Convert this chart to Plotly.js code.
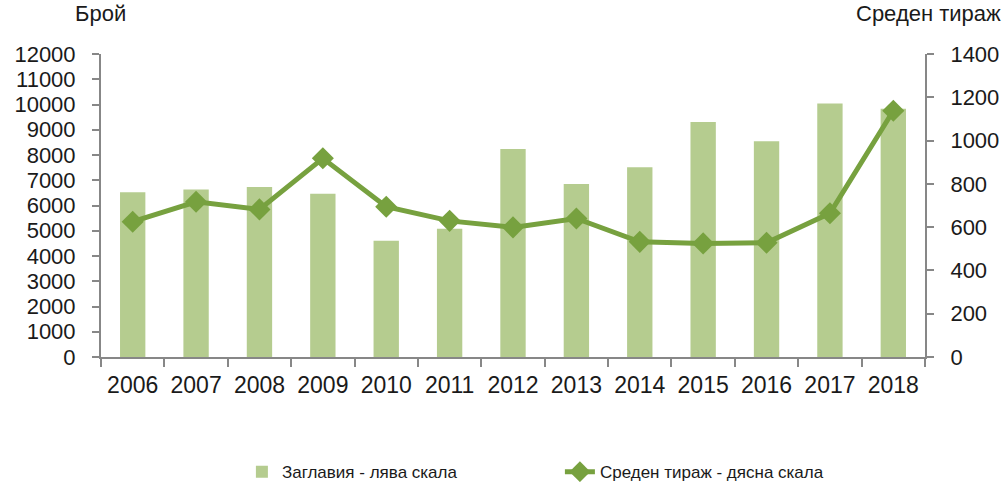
<!DOCTYPE html>
<html>
<head>
<meta charset="utf-8">
<script src="https://cdn.plot.ly/plotly-3.0.1.min.js"></script>
<style>html,body{margin:0;padding:0;background:#fff;}#chart{width:1006px;height:482px;}</style>
</head>
<body>
<div id="chart"></div>
<script>
const years = ['2006','2007','2008','2009','2010','2011','2012','2013','2014','2015','2016','2017','2018'];
const titlesCount = [6520, 6630, 6730, 6470, 4600, 5080, 8240, 6850, 7510, 9310, 8540, 10040, 9830];
const avgCirculation = [625, 717, 682, 918, 694, 629, 599, 640, 532, 525, 528, 664, 1138];
const leftTicks = [0,1000,2000,3000,4000,5000,6000,7000,8000,9000,10000,11000,12000];
const rightTicks = [0,200,400,600,800,1000,1200,1400];
const barName = 'Заглавия - лява скала';
const lineName = 'Среден тираж - дясна скала';
const leftTitle = 'Брой';
const rightTitle = 'Среден тираж';

const axisColor = '#878787';
const font = 'Liberation Sans, Arial, sans-serif';
const txt = '#1a1a1a';

const traces = [
  {type:'bar', x:years, y:titlesCount, name:barName, marker:{color:'#b5cc8f'}, yaxis:'y', xaxis:'x'},
  {type:'scatter', mode:'lines+markers', x:years, y:avgCirculation, name:lineName, yaxis:'y2', xaxis:'x',
   line:{color:'#77a13f', width:5}, marker:{symbol:'diamond', size:17, color:'#77a13f'}}
];

const layout = {
  width:1006, height:482,
  margin:{l:101, r:81, t:54, b:125, autoexpand:false},
  paper_bgcolor:'#fff', plot_bgcolor:'#fff',
  bargap:0.6,
  showlegend:true,
  legend:{orientation:'h', x:0.171, xanchor:'left', y:-0.38, yanchor:'middle',
          font:{family:font, size:17, color:txt}, entrywidth:273, entrywidthmode:'pixels', tracegroupgap:0},
  font:{family:font, color:txt},
  xaxis:{type:'category', range:[-0.5, years.length - 0.5], automargin:false, tickangle:0, showgrid:false, zeroline:false, showline:true, linecolor:axisColor, linewidth:2,
         ticks:'outside', ticklen:8, tickcolor:axisColor, tickwidth:2, tickson:'boundaries',
         tickfont:{family:font, size:23, color:txt}, ticklabelstandoff:6},
  yaxis:{automargin:false, range:[0,12000], tickvals:leftTicks, ticktext:leftTicks.map(String), showgrid:false, zeroline:false, showline:true,
         linecolor:axisColor, linewidth:2, ticks:'outside', ticklen:7, tickcolor:axisColor, tickwidth:2,
         tickfont:{family:font, size:22, color:txt}, ticklabelstandoff:12},
  yaxis2:{automargin:false, range:[0,1400], tickvals:rightTicks, ticktext:rightTicks.map(String), overlaying:'y', side:'right', showgrid:false, zeroline:false,
          showline:true, linecolor:axisColor, linewidth:2, ticks:'outside', ticklen:7, tickcolor:axisColor, tickwidth:2,
          tickfont:{family:font, size:22, color:txt}, ticklabelstandoff:12},
  yaxis3:{automargin:false, range:[0,12000], tickvals:leftTicks, overlaying:'y', side:'left', showgrid:false, zeroline:false,
          showline:false, ticks:'inside', ticklen:7, tickcolor:axisColor, tickwidth:2, showticklabels:false},
  yaxis4:{automargin:false, range:[0,1400], tickvals:rightTicks, overlaying:'y', side:'right', showgrid:false, zeroline:false,
          showline:false, ticks:'inside', ticklen:7, tickcolor:axisColor, tickwidth:2, showticklabels:false},
  annotations:[
    {text:leftTitle, xref:'paper', yref:'paper', x:0.033, y:1.085, xanchor:'right', yanchor:'bottom',
     showarrow:false, font:{family:font, size:22, color:txt}},
    {text:rightTitle, xref:'paper', yref:'paper', x:1.095, y:1.085, xanchor:'right', yanchor:'bottom',
     showarrow:false, font:{family:font, size:22, color:txt}}
  ]
};

Plotly.newPlot('chart', traces, layout, {displayModeBar:false, staticPlot:true});
</script>
</body>
</html>
